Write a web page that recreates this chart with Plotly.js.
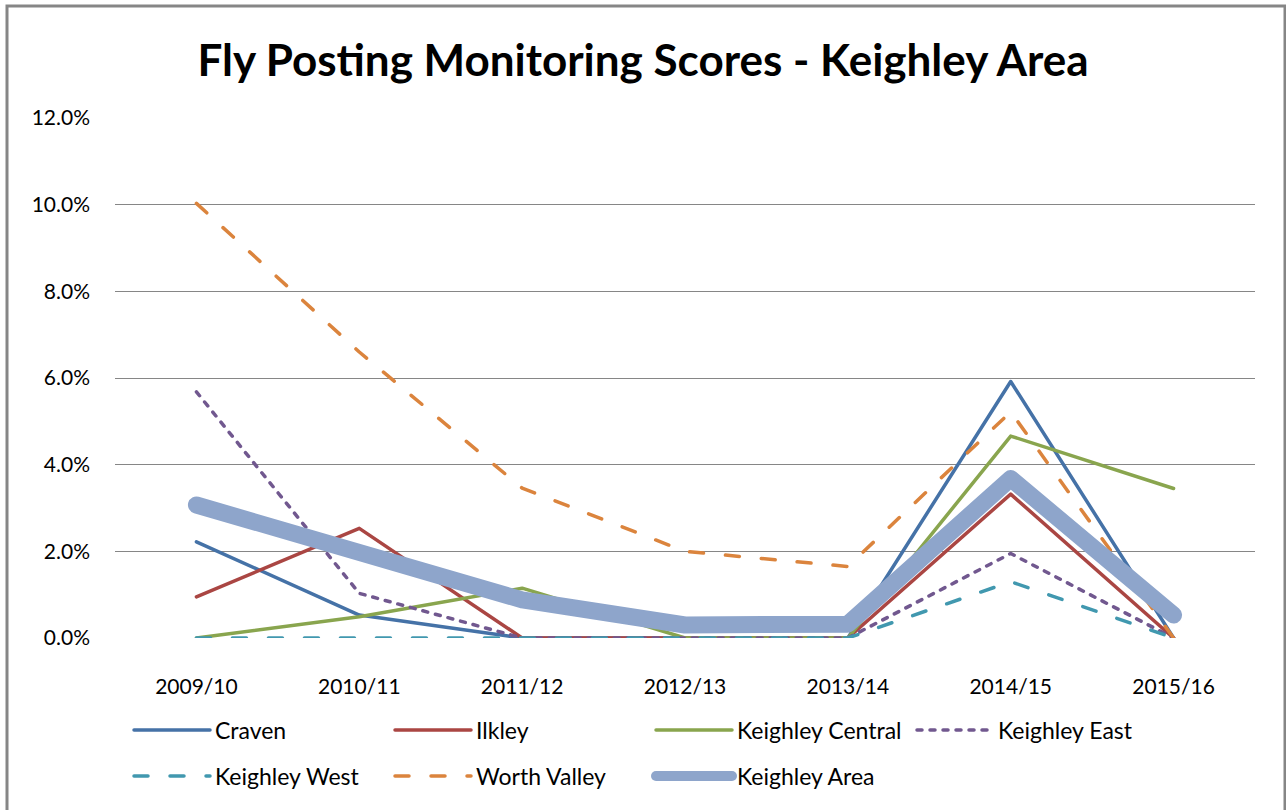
<!DOCTYPE html>
<html>
<head>
<meta charset="utf-8">
<script src="https://cdn.plot.ly/plotly-3.0.1.min.js"></script>
<style>html,body{margin:0;padding:0;background:#fff;}#chart{width:1286px;height:810px;}
#chart path.js-line{stroke-linecap:round;stroke-linejoin:round;}</style>
</head>
<body>
<div id="chart"></div>
<script>
const years = ["2009/10","2010/11","2011/12","2012/13","2013/14","2014/15","2015/16"];
const craven = [2.22, 0.53, 0, 0, 0, 5.92, 0];
const ilkley = [0.95, 2.53, 0, 0, 0, 3.32, 0];
const keighleyCentral = [0, 0.49, 1.15, 0, 0, 4.66, 3.45];
const keighleyEast = [5.68, 1.03, 0, 0, 0, 1.95, 0];
const keighleyWest = [0, 0, 0, 0, 0, 1.30, 0];
const worthValley = [10.03, 6.6, 3.46, 2.0, 1.65, 5.22, 0];
const keighleyArea = [3.07, 1.96, 0.88, 0.3, 0.32, 3.68, 0.53];
const yTicks = [0, 2, 4, 6, 8, 10, 12];
const yTickLabels = ["0.0%","2.0%","4.0%","6.0%","8.0%","10.0%","12.0%"];

function tr(name, y, color, width, dash, legend) {
  return {x: years, y: y.map(v => v / 100), name: name, type: 'scatter', mode: 'lines',
          line: {color: color, width: width, dash: dash}, hoverinfo: 'skip', legend: legend};
}
const data = [
  tr('Craven', craven, '#4572A7', 3.5, 'solid', 'legend'),
  tr('Ilkley', ilkley, '#AA4643', 3.5, 'solid', 'legend'),
  tr('Keighley Central', keighleyCentral, '#89A54E', 3.5, 'solid', 'legend'),
  tr('Keighley East', keighleyEast, '#71588F', 3.5, '5px,8px', 'legend'),
  tr('Keighley West', keighleyWest, '#4198AF', 3.5, '14px,22px', 'legend2'),
  tr('Worth Valley', worthValley, '#DB843D', 3.5, '14px,22px', 'legend2'),
  tr('Keighley Area', keighleyArea, '#8EA5CB', 17, 'solid', 'legend2')
];
const L = 115, R = 1255, T = 118, B = 638;
const pw = R - L, ph = B - T;
const legendCommon = {orientation: 'h', x: (129 - L) / pw, xanchor: 'left', yanchor: 'middle',
  entrywidth: 170, entrywidthmode: 'pixels', itemwidth: 76, tracegroupgap: 0,
  font: {size: 23}, bgcolor: 'rgba(0,0,0,0)', traceorder: 'normal'};
const layout = {
  width: 1286, height: 810,
  margin: {l: L, r: 1286 - R, t: T, b: 810 - B},
  paper_bgcolor: '#fff', plot_bgcolor: '#fff',
  font: {family: 'Lato, "Open Sans", sans-serif', color: '#000', size: 21},
  title: {text: 'Fly Posting Monitoring Scores - Keighley Area', font: {size: 44, family: 'Lato, sans-serif', weight: 'bold'}, x: 0.5, xanchor: 'center', y: 1 - 61/810, yanchor: 'middle'},
  showlegend: true,
  legend: Object.assign({}, legendCommon, {y: (B - 730) / ph}),
  legend2: Object.assign({}, legendCommon, {y: (B - 776) / ph}),
  xaxis: {type: 'category', range: [-0.5, 6.5], showgrid: false, zeroline: false, showline: false, ticks: '',
          tickfont: {size: 21}, ticklabelstandoff: 34, fixedrange: true},
  yaxis: {range: [0, 0.12], tickvals: yTicks.map(v => v / 100), ticktext: yTickLabels,
          showgrid: true, gridcolor: '#868686', gridwidth: 1, zeroline: false, showline: false,
          ticks: '', tickfont: {size: 21}, ticklabelstandoff: 24, fixedrange: true},
  shapes: [
    {type: 'rect', xref: 'paper', yref: 'paper',
     x0: (7 - L) / pw, x1: (1285 - L) / pw, y0: (B - 815) / ph, y1: (B - 6) / ph,
     line: {color: '#868686', width: 3}, fillcolor: 'rgba(0,0,0,0)', layer: 'below'}
  ]
};
Plotly.newPlot('chart', data, layout, {displayModeBar: false, staticPlot: true});
</script>
</body>
</html>
